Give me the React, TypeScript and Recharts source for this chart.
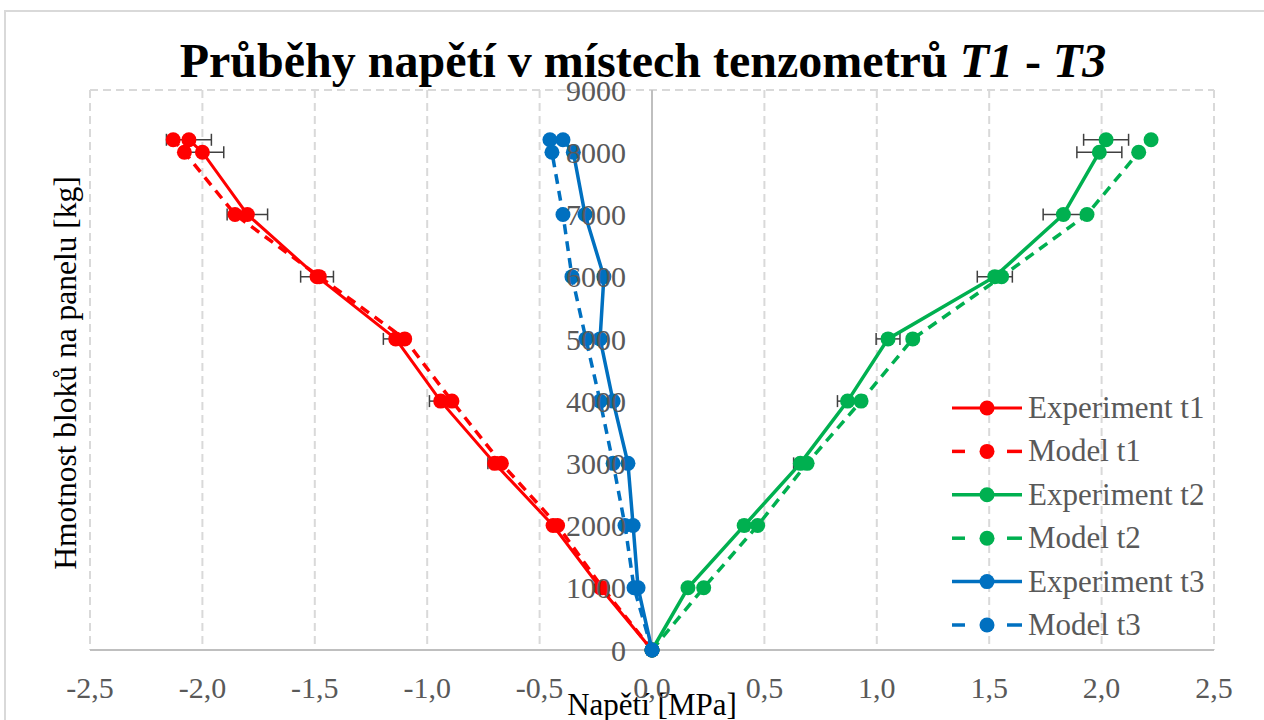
import React from 'react';
import {
  ScatterChart, Scatter, XAxis, YAxis, CartesianGrid, ErrorBar, ReferenceLine, ReferenceDot,
} from 'recharts';

const LOADS = [0, 1000, 2000, 3000, 4000, 5000, 6000, 7000, 8000, 8200];
const EXP_T1 = [0, -0.23, -0.44, -0.70, -0.94, -1.14, -1.49, -1.80, -2.00, -2.06];
const ERR_T1 = [0, 0.01, 0.015, 0.03, 0.05, 0.055, 0.073, 0.09, 0.095, 0.10];
const MODEL_T1 = [0, -0.22, -0.42, -0.67, -0.89, -1.10, -1.48, -1.855, -2.08, -2.13];
const EXP_T2 = [0, 0.16, 0.41, 0.66, 0.87, 1.05, 1.525, 1.83, 1.99, 2.02];
const ERR_T2 = [0, 0.01, 0.02, 0.03, 0.045, 0.053, 0.078, 0.09, 0.10, 0.10];
const MODEL_T2 = [0, 0.23, 0.47, 0.69, 0.93, 1.16, 1.555, 1.935, 2.165, 2.22];
const EXP_T3 = [0, -0.062, -0.084, -0.107, -0.173, -0.231, -0.214, -0.298, -0.35, -0.396];
const MODEL_T3 = [0, -0.08, -0.12, -0.173, -0.231, -0.294, -0.356, -0.396, -0.445, -0.454];

const X_TICKS = [-2.5, -2, -1.5, -1, -0.5, 0, 0.5, 1, 1.5, 2, 2.5];
const Y_TICKS = [0, 1000, 2000, 3000, 4000, 5000, 6000, 7000, 8000, 9000];

const TITLE_MAIN = 'Průběhy napětí v místech tenzometrů ';
const X_TITLE = 'Napětí [MPa]';
const Y_TITLE = 'Hmotnost bloků na panelu [kg]';

const RED = '#FF0000';
const GREEN = '#00B050';
const BLUE = '#0070C0';
const FONT = '"Liberation Serif", "Times New Roman", serif';
const GRAY_TEXT = '#595959';

const build = (xs: number[], errs?: number[]) =>
  LOADS.map((y, i) => ({ x: xs[i], y, err: errs ? errs[i] : 0 }));

const SERIES = [
  { name: 'Experiment t1', color: RED, data: build(EXP_T1, ERR_T1), dashed: false, err: true, width: 3 },
  { name: 'Model t1', color: RED, data: build(MODEL_T1), dashed: true, err: false, width: 3.5 },
  { name: 'Experiment t2', color: GREEN, data: build(EXP_T2, ERR_T2), dashed: false, err: true, width: 3.5 },
  { name: 'Model t2', color: GREEN, data: build(MODEL_T2), dashed: true, err: false, width: 3.5 },
  { name: 'Experiment t3', color: BLUE, data: build(EXP_T3), dashed: false, err: false, width: 3.5 },
  { name: 'Model t3', color: BLUE, data: build(MODEL_T3), dashed: true, err: false, width: 3.5 },
];

const fmt = (v: number) => v.toFixed(1).replace('.', ',');

const XTick = (props: any) => {
  const { x, y, payload } = props;
  return (
    <text x={x} y={y} textAnchor="middle" fill={GRAY_TEXT} fontSize={30} fontFamily={FONT}>
      {fmt(payload.value)}
    </text>
  );
};

const Legend6 = () => (
  <div style={{ position: 'absolute', left: 948, top: 386, width: 300 }}>
    <svg width={300} height={270}>
      {SERIES.map((s, i) => {
        const cy = 22 + i * 43.4;
        return (
          <g key={s.name}>
            {s.dashed ? (
              <>
                <line x1={4} x2={17} y1={cy} y2={cy} stroke={s.color} strokeWidth={s.width} />
                <line x1={59} x2={74} y1={cy} y2={cy} stroke={s.color} strokeWidth={s.width} />
              </>
            ) : (
              <line x1={4} x2={74} y1={cy} y2={cy} stroke={s.color} strokeWidth={s.width} />
            )}
            <circle cx={39} cy={cy} r={7.5} fill={s.color} />
            <text x={80} y={cy + 10} fill={GRAY_TEXT} fontSize={31} fontFamily={FONT}>{s.name}</text>
          </g>
        );
      })}
    </svg>
  </div>
);

export default function App() {
  return (
    <div style={{ position: 'fixed', left: 0, top: 0, width: 1264, height: 720, overflow: 'hidden', background: '#fff', fontFamily: FONT }}>
      <div style={{ position: 'absolute', left: 4, top: 10, width: 1320, height: 800, border: '2px solid #d9d9d9', boxSizing: 'border-box' }} />
      <div style={{ position: 'absolute', left: 0, top: 37, width: 1286, textAlign: 'center', fontSize: 48, lineHeight: '48px', fontWeight: 'bold', color: '#000', fontFamily: FONT, whiteSpace: 'nowrap' }}>
        {TITLE_MAIN}<i>T1</i> - <i>T3</i>
      </div>
      <div style={{ position: 'absolute', left: 0, top: 0 }}>
        <ScatterChart width={1264} height={720} margin={{ top: 90, right: 50, bottom: 0, left: 0 }}>
          <CartesianGrid stroke="#d9d9d9" strokeWidth={2} strokeDasharray="8 5" />
          <XAxis
            type="number"
            dataKey="x"
            domain={[-2.5, 2.5]}
            ticks={X_TICKS}
            allowDataOverflow
            height={70}
            stroke="#bfbfbf"
            strokeWidth={2}
            tickLine={false}
            tickSize={0}
            tickMargin={48}
            tick={<XTick />}
            label={(p: any) => {
              const vb = p.viewBox;
              return (
                <text x={vb.x + vb.width / 2} y={vb.y + 65} textAnchor="middle" fill="#000" fontSize={31} fontFamily={FONT}>
                  {X_TITLE}
                </text>
              );
            }}
          />
          <YAxis
            type="number"
            dataKey="y"
            domain={[0, 9000]}
            ticks={Y_TICKS}
            width={90}
            tick={false}
            tickLine={false}
            axisLine={false}
            label={(p: any) => {
              const vb = p.viewBox;
              const cx = vb.x + 65;
              const cy = vb.y + vb.height / 2 + 3;
              return (
                <text x={cx} y={cy} transform={`rotate(-90 ${cx} ${cy})`} textAnchor="middle" dominantBaseline="central" fill="#000" fontSize={31.5} fontFamily={FONT}>
                  {Y_TITLE}
                </text>
              );
            }}
          />
          <ReferenceLine x={0} stroke="#bfbfbf" strokeWidth={2} />
          {SERIES.map((s) => (
            <Scatter
              key={s.name}
              name={s.name}
              data={s.data}
              fill={s.color}
              isAnimationActive={false}
              line={{ stroke: s.color, strokeWidth: s.width, strokeDasharray: s.dashed ? '10 7' : undefined }}
              lineType="joint"
              shape={(p: any) => <circle cx={p.cx} cy={p.cy} r={7.5} fill={s.color} />}
            >
              {s.err ? (
                <ErrorBar dataKey="err" direction="x" width={6} stroke="#404040" strokeWidth={1.5} isAnimationActive={false} />
              ) : null}
            </Scatter>
          ))}
          {Y_TICKS.map((v) => (
            <ReferenceDot
              key={v}
              x={0}
              y={v}
              r={0}
              fill="none"
              stroke="none"
              label={{ value: String(v), position: 'left', offset: 26, fill: GRAY_TEXT, fontSize: 30, fontFamily: FONT }}
            />
          ))}
        </ScatterChart>
      </div>
      <Legend6 />
    </div>
  );
}
